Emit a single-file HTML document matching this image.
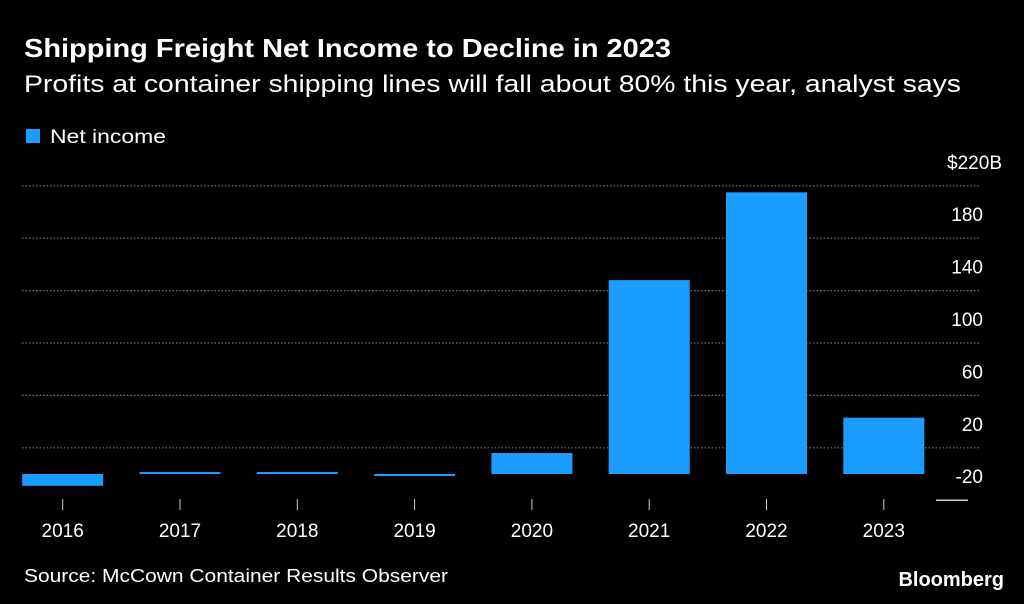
<!DOCTYPE html>
<html><head><meta charset="utf-8"><style>
html,body{margin:0;padding:0;background:#000;}
svg{display:block;font-family:"Liberation Sans",sans-serif;}
</style></head><body>
<svg id="chart" width="1024" height="604" viewBox="0 0 1024 604">
<rect x="0" y="0" width="1024" height="604" fill="#000"/>
<text x="24" y="57" fill="#fff" font-size="26" font-weight="bold" textLength="647" lengthAdjust="spacingAndGlyphs">Shipping Freight Net Income to Decline in 2023</text>
<text x="24" y="92" fill="#fff" font-size="24" textLength="937" lengthAdjust="spacingAndGlyphs">Profits at container shipping lines will fall about 80% this year, analyst says</text>
<rect x="26" y="129" width="14" height="14" fill="#1a9dff"/>
<text x="50" y="143" fill="#fff" font-size="19" textLength="116" lengthAdjust="spacingAndGlyphs">Net income</text>
<g id="grid"></g>
<g id="bars"></g>
<g id="xaxis"></g>
<text x="24" y="582" fill="#fff" font-size="18" textLength="424" lengthAdjust="spacingAndGlyphs">Source: McCown Container Results Observer</text>
<text x="1004" y="586" fill="#fff" font-size="20" font-weight="bold" text-anchor="end">Bloomberg</text>
</svg>
<script>
const categories = ["2016","2017","2018","2019","2020","2021","2022","2023"];
const netIncome = [-9, 1.5, 1.5, -1, 16, 148, 215, 43];
const yTicks = [220, 180, 140, 100, 60, 20, -20];
const yTickLabels = ["$220B","180","140","100","60","20","-20"];

const NS = "http://www.w3.org/2000/svg";
const y0px = 474, pxPerUnit = 1.31;
function y(v){ return y0px - v * pxPerUnit; }
const firstCenter = 62.7, step = 117.3, barW = 81;
function x(i){ return firstCenter + i * step; }
function mk(tag, attrs, parent){ const e=document.createElementNS(NS,tag); for(const k in attrs) e.setAttribute(k,attrs[k]); parent.appendChild(e); return e; }

const grid = document.getElementById('grid');
yTicks.forEach((t,i)=>{
  const yy = y(t);
  if (t !== -20) {
    const l = mk('line',{x1:22,x2:980,y1:yy,y2:yy,stroke:'#777','stroke-width':1.2,'stroke-dasharray':'1.5 2'},grid);
    
    
  }
  const lab = mk('text',{x: i===0?1002:983, y: yy-17, fill:'#fff','font-size':19,'text-anchor':'end'},grid);
  lab.textContent = yTickLabels[i];
  
  
});
const axl = mk('line',{x1:936,x2:968,y1:y(-20),y2:y(-20),stroke:'#ccc','stroke-width':1.5},grid);



const bars = document.getElementById('bars');
netIncome.forEach((v,i)=>{
  let top = Math.min(y(v), y(0)), h = Math.abs(y(v)-y(0));
  if (h < 2) { h = 2; if (v >= 0) top = y(0)-2; }
  const r = mk('rect',{x:x(i)-barW/2,y:top,width:barW,height:h,fill:'#1a9dff'},bars);
  
  
});

const xa = document.getElementById('xaxis');
categories.forEach((c,i)=>{
  const t = mk('line',{x1:x(i),x2:x(i),y1:499,y2:510,stroke:'#ccc','stroke-width':1},xa);
  
  
  const lab = mk('text',{x:x(i),y:537,fill:'#fff','font-size':19,'text-anchor':'middle'},xa);
  lab.textContent = c;
  
  
});
</script>
</body></html>
